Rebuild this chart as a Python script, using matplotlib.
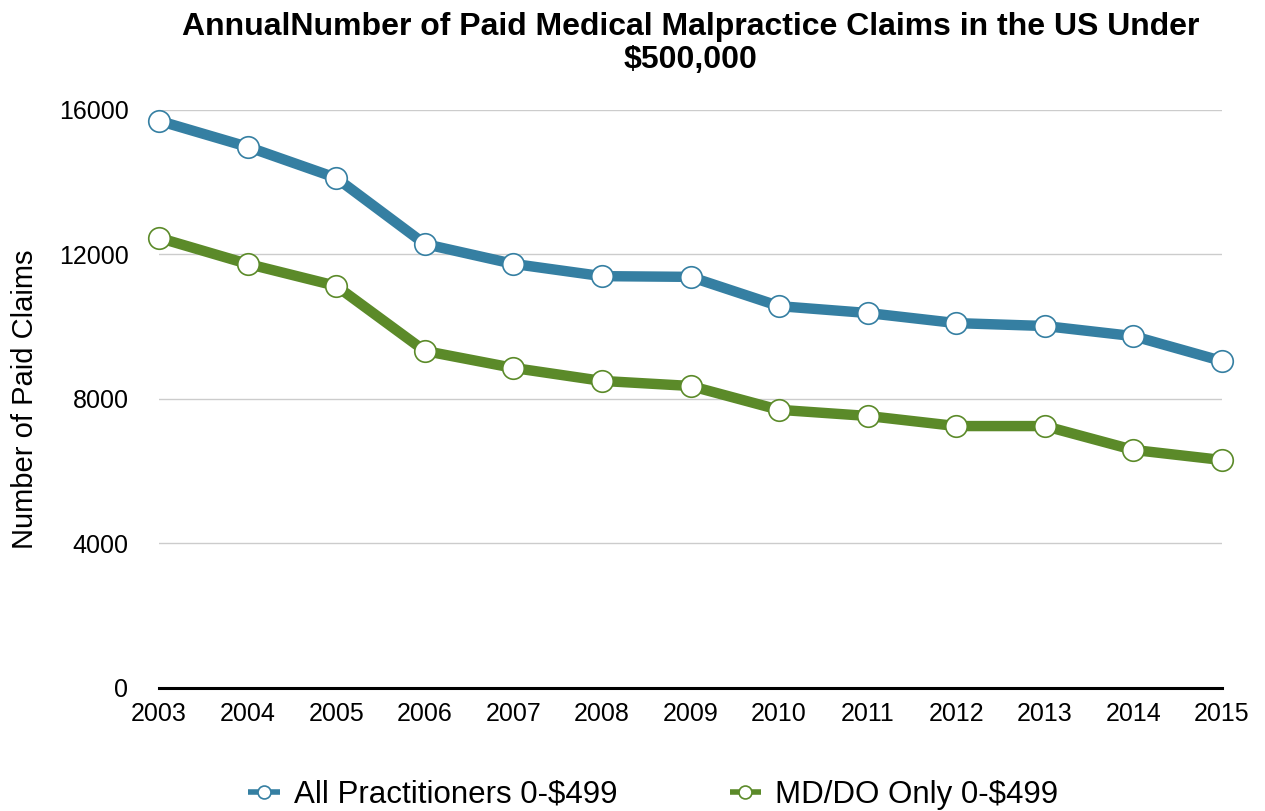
import matplotlib.pyplot as plt

plt.rcParams['font.family'] = ['Liberation Sans', 'DejaVu Sans']

years = [2003, 2004, 2005, 2006, 2007, 2008, 2009, 2010, 2011, 2012, 2013, 2014, 2015]
all_practitioners = [15700, 14980, 14120, 12290, 11740, 11400, 11380, 10570, 10380, 10100, 10020, 9740, 9050]
md_do_only = [12460, 11740, 11130, 9330, 8860, 8500, 8360, 7700, 7530, 7250, 7250, 6590, 6310]
yticks = [0, 4000, 8000, 12000, 16000]

blue = '#357fa2'
green = '#5b8a29'

fig = plt.figure(figsize=(12.65, 8.11), dpi=100)
ax = fig.add_axes([0.1257, 0.1517, 0.8403, 0.7127])

for vals, col, lab in [(all_practitioners, blue, 'All Practitioners 0-$499'),
                       (md_do_only, green, 'MD/DO Only 0-$499')]:
    ax.plot(years, vals, color=col, lw=7.5, solid_capstyle='butt', zorder=3, label=lab,
            marker='o', ms=15.5, mfc='white', mec=col, mew=1.2, clip_on=False)

ax.set_xlim(2003, 2015)
ax.set_ylim(0, 16000)
ax.set_yticks(yticks)
ax.set_xticks(years)
ax.grid(axis='y', color='#cccccc', lw=1)
ax.set_axisbelow(True)
for s in ['top', 'right', 'left']:
    ax.spines[s].set_visible(False)
ax.spines['bottom'].set_linewidth(2.2)
ax.spines['bottom'].set_zorder(1)
ax.tick_params(axis='both', length=0, labelsize=18)
ax.tick_params(axis='y', pad=22)
ax.tick_params(axis='x', pad=10)
ax.set_ylabel('Number of Paid Claims', fontsize=21, labelpad=14)
ax.set_title('AnnualNumber of Paid Medical Malpractice Claims in the US Under\n$500,000',
             fontsize=23, fontweight='bold', pad=30, linespacing=1.15)

leg = ax.legend(loc='center', bbox_to_anchor=(0.465, -0.185), ncol=2, frameon=False,
                fontsize=22.5, handlelength=1.0, columnspacing=3.6, markerscale=0.6,
                handletextpad=0.45)
for h in leg.get_lines():
    h.set_linewidth(4)

fig.savefig('out.png', dpi=100)
